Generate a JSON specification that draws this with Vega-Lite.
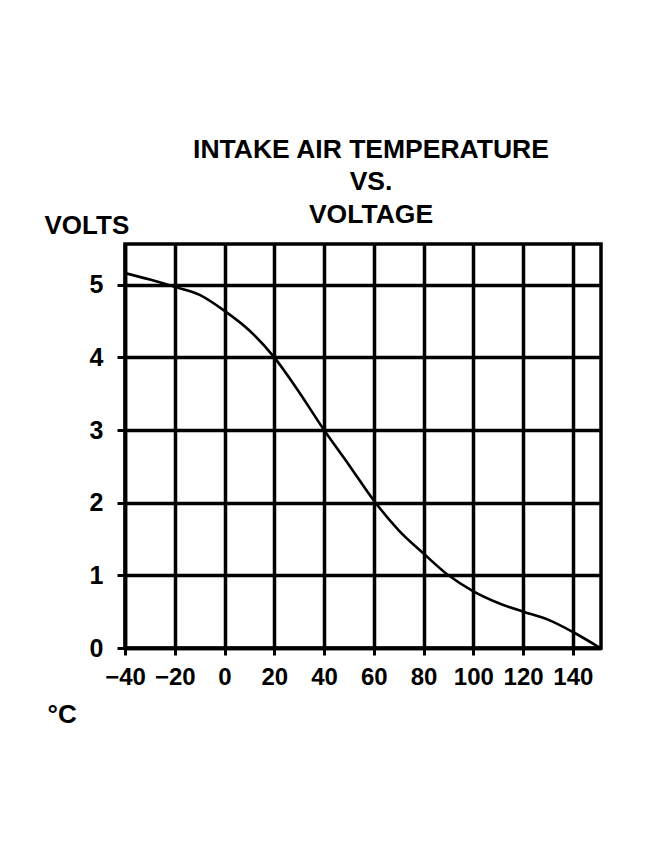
{
  "$schema": "https://vega.github.io/schema/vega-lite/v6.json",
  "autosize": "none",
  "width": 476,
  "height": 404,
  "padding": {"left": 125, "top": 244, "right": 71, "bottom": 200},
  "background": "white",
  "config": {
    "view": {"stroke": "black", "strokeWidth": 3.5},
    "font": "Liberation Sans"
  },
  "title": {
    "text": ["INTAKE AIR TEMPERATURE", "VS.", "VOLTAGE"],
    "font": "Liberation Sans",
    "fontSize": 26.5,
    "fontWeight": "bold",
    "color": "black",
    "lineHeight": 32.5,
    "anchor": "middle",
    "dx": 8,
    "offset": -16
  },
  "data": {
    "values": [
      {"temp": -40, "volts": 5.16},
      {"temp": -30, "volts": 5.07},
      {"temp": -20, "volts": 4.97},
      {"temp": -10, "volts": 4.86},
      {"temp": 0, "volts": 4.64},
      {"temp": 10, "volts": 4.37},
      {"temp": 20, "volts": 4.0},
      {"temp": 30, "volts": 3.52},
      {"temp": 40, "volts": 3.0},
      {"temp": 50, "volts": 2.52},
      {"temp": 60, "volts": 2.03},
      {"temp": 70, "volts": 1.62},
      {"temp": 80, "volts": 1.3},
      {"temp": 90, "volts": 1.0},
      {"temp": 100, "volts": 0.78},
      {"temp": 110, "volts": 0.62},
      {"temp": 120, "volts": 0.5},
      {"temp": 130, "volts": 0.39},
      {"temp": 140, "volts": 0.22},
      {"temp": 151, "volts": 0.0}
    ]
  },
  "mark": {"type": "line", "color": "black", "strokeWidth": 2.6, "interpolate": "monotone", "clip": true},
  "encoding": {
    "x": {
      "field": "temp",
      "type": "quantitative",
      "scale": {"domain": [-40, 151.3], "nice": false, "zero": false},
      "axis": {
        "values": [-40, -20, 0, 20, 40, 60, 80, 100, 120, 140],
        "grid": true,
        "gridColor": "black",
        "gridWidth": 3.5,
        "gridOpacity": 1,
        "domainColor": "black",
        "domainWidth": 3.5,
        "tickColor": "black",
        "tickWidth": 3,
        "tickSize": 7,
        "labelFont": "Liberation Sans",
        "labelFontSize": 24,
        "labelFontWeight": "bold",
        "labelColor": "black",
        "labelPadding": 10,
        "labelOverlap": false,
        "labelFlush": false,
        "encode": {"labels": {"update": {"dx": {"signal": "datum.value < 0 ? -9 : 0"}}}},
        "title": "°C",
        "titleFont": "Liberation Sans",
        "titleFontSize": 26,
        "titleFontWeight": "bold",
        "titleColor": "black",
        "titleAlign": "left",
        "titleBaseline": "alphabetic",
        "titleAnchor": "start",
        "titleX": -78,
        "titleY": 74
      }
    },
    "y": {
      "field": "volts",
      "type": "quantitative",
      "scale": {"domain": [0, 5.56], "nice": false},
      "axis": {
        "values": [0, 1, 2, 3, 4, 5],
        "grid": true,
        "gridColor": "black",
        "gridWidth": 3.5,
        "gridOpacity": 1,
        "domainColor": "black",
        "domainWidth": 3.5,
        "tickColor": "black",
        "tickWidth": 3,
        "tickSize": 8,
        "labelFont": "Liberation Sans",
        "labelFontSize": 25,
        "labelFontWeight": "bold",
        "labelColor": "black",
        "labelPadding": 14,
        "labelOverlap": false,
        "labelFlush": false,
        "title": "VOLTS",
        "titleFont": "Liberation Sans",
        "titleFontSize": 26,
        "titleFontWeight": "bold",
        "titleColor": "black",
        "titleAngle": 0,
        "titleAlign": "left",
        "titleBaseline": "alphabetic",
        "titleX": -81,
        "titleY": -11
      }
    }
  }
}
